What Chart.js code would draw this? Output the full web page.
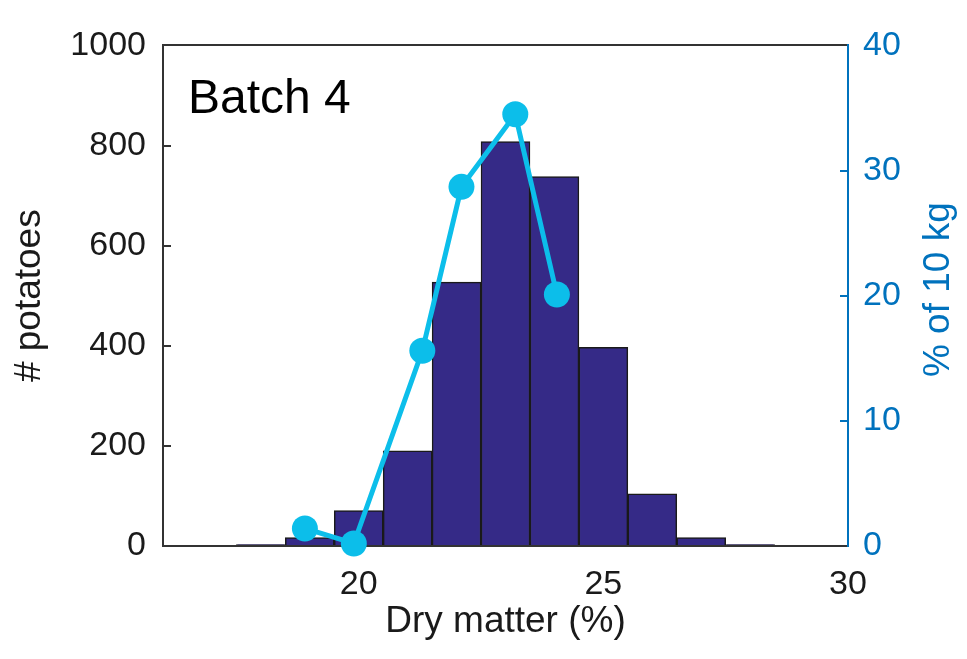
<!DOCTYPE html>
<html>
<head>
<meta charset="utf-8">
<script src="https://cdn.jsdelivr.net/npm/chart.js@4"></script>
<style>
  html, body { margin: 0; padding: 0; background: #fff; }
  #wrap { width: 967px; height: 659px; }
</style>
</head>
<body>
<div id="wrap"><canvas id="dmChart" width="967" height="659"></canvas></div>
<script>
// Histogram of dry matter, batch 4
const binCenters = [18, 19, 20, 21, 22, 23, 24, 25, 26, 27, 28, 29];
const binCounts = [3, 17, 71, 190, 527, 808, 738, 397, 104, 17, 3, 0];

// % of 10 kg sample, right axis
const pctX = [18.9, 19.9, 21.3, 22.1, 23.2, 24.05];
const pctY = [1.4, 0.2, 15.6, 28.7, 34.5, 20.1];

const xTicks = [20, 25, 30];
const yTicks = [0, 200, 400, 600, 800, 1000];
const y2Ticks = [0, 10, 20, 30, 40];

const darkAxis = '#333333';
const blueAxis = '#0072BD';
const barFill = '#352A87';
const lineCyan = '#0CBEEA';
const fontFam = '"Liberation Sans", Arial, sans-serif';

// extra text: panel label and right axis title (reads bottom to top)
const extraText = {
  id: 'extraText',
  afterDraw(chart) {
    const ctx = chart.ctx;
    const area = chart.chartArea;
    ctx.save();
    ctx.fillStyle = '#000';
    ctx.font = '48px ' + fontFam;
    ctx.textAlign = 'left';
    ctx.textBaseline = 'alphabetic';
    ctx.fillText('Batch 4', area.left + 25, area.top + 68);

    ctx.translate(chart.scales.y2.right - 28, (area.top + area.bottom) / 2 - 6);
    ctx.rotate(-Math.PI / 2);
    ctx.fillStyle = blueAxis;
    ctx.font = '37px ' + fontFam;
    ctx.textAlign = 'center';
    ctx.textBaseline = 'middle';
    ctx.fillText('% of 10 kg', 0, 0);
    ctx.restore();
  }
};

function fixTicks(values) {
  return function(scale) {
    scale.ticks = values.map(v => ({ value: v }));
  };
}

function plainLabel(value) {
  return String(value);
}

const ctx = document.getElementById('dmChart');
new Chart(ctx, {
  type: 'bar',
  data: {
    datasets: [
      {
        type: 'line',
        label: '% of 10 kg',
        data: pctX.map((x, i) => ({ x: x, y: pctY[i] })),
        xAxisID: 'x',
        yAxisID: 'y2',
        borderColor: lineCyan,
        backgroundColor: lineCyan,
        borderWidth: 5,
        pointRadius: 13,
        pointBorderWidth: 0,
        tension: 0,
        clip: false,
        order: 0
      },
      {
        type: 'bar',
        label: '# potatoes',
        data: binCenters.map((x, i) => ({ x: x, y: binCounts[i] })),
        xAxisID: 'x',
        yAxisID: 'y',
        backgroundColor: barFill,
        borderColor: '#1a1a1a',
        borderWidth: 1.5,
        barPercentage: 1,
        categoryPercentage: 1,
        order: 1
      }
    ]
  },
  options: {
    responsive: false,
    animation: false,
    devicePixelRatio: 1,
    layout: { padding: { top: 25, left: 0, right: 0, bottom: 0 } },
    plugins: {
      legend: { display: false },
      tooltip: { enabled: false }
    },
    scales: {
      x: {
        type: 'linear',
        position: 'bottom',
        min: 16,
        max: 30,
        offset: false,
        afterBuildTicks: fixTicks(xTicks),
        afterFit: function(scale) { scale.height = 113; },
        border: { display: true, color: darkAxis, width: 2 },
        grid: { drawOnChartArea: false, offset: false, color: darkAxis, lineWidth: 2, tickLength: -8 },
        ticks: {
          color: '#1a1a1a',
          padding: 26,
          maxRotation: 0,
          callback: plainLabel,
          font: { family: fontFam, size: 34 }
        },
        title: {
          display: true,
          text: 'Dry matter (%)',
          color: '#1a1a1a',
          padding: { top: 0, bottom: 15 },
          font: { family: fontFam, size: 37 }
        }
      },
      xTop: {
        type: 'linear',
        position: 'top',
        min: 16,
        max: 30,
        afterFit: function(scale) { scale.height = 0; },
        border: { display: true, color: darkAxis, width: 2 },
        grid: { drawOnChartArea: false, drawTicks: false },
        ticks: { display: false }
      },
      y: {
        type: 'linear',
        position: 'left',
        min: 0,
        max: 1000,
        afterBuildTicks: fixTicks(yTicks),
        afterFit: function(scale) { scale.width = 163; },
        border: { display: true, color: darkAxis, width: 2 },
        grid: { drawOnChartArea: false, color: darkAxis, lineWidth: 2, tickLength: -8 },
        ticks: {
          color: '#1a1a1a',
          padding: 25,
          callback: plainLabel,
          font: { family: fontFam, size: 34 }
        },
        title: {
          display: true,
          text: '# potatoes',
          color: '#1a1a1a',
          padding: { top: 8, bottom: 0 },
          font: { family: fontFam, size: 37 }
        }
      },
      y2: {
        type: 'linear',
        position: 'right',
        min: 0,
        max: 40,
        afterBuildTicks: fixTicks(y2Ticks),
        afterFit: function(scale) { scale.width = 119; },
        border: { display: true, color: blueAxis, width: 2 },
        grid: { drawOnChartArea: false, color: blueAxis, lineWidth: 2, tickLength: -8 },
        ticks: {
          color: blueAxis,
          padding: 23,
          callback: plainLabel,
          font: { family: fontFam, size: 34 }
        },
        title: { display: false }
      }
    }
  },
  plugins: [extraText]
});
</script>
</body>
</html>
